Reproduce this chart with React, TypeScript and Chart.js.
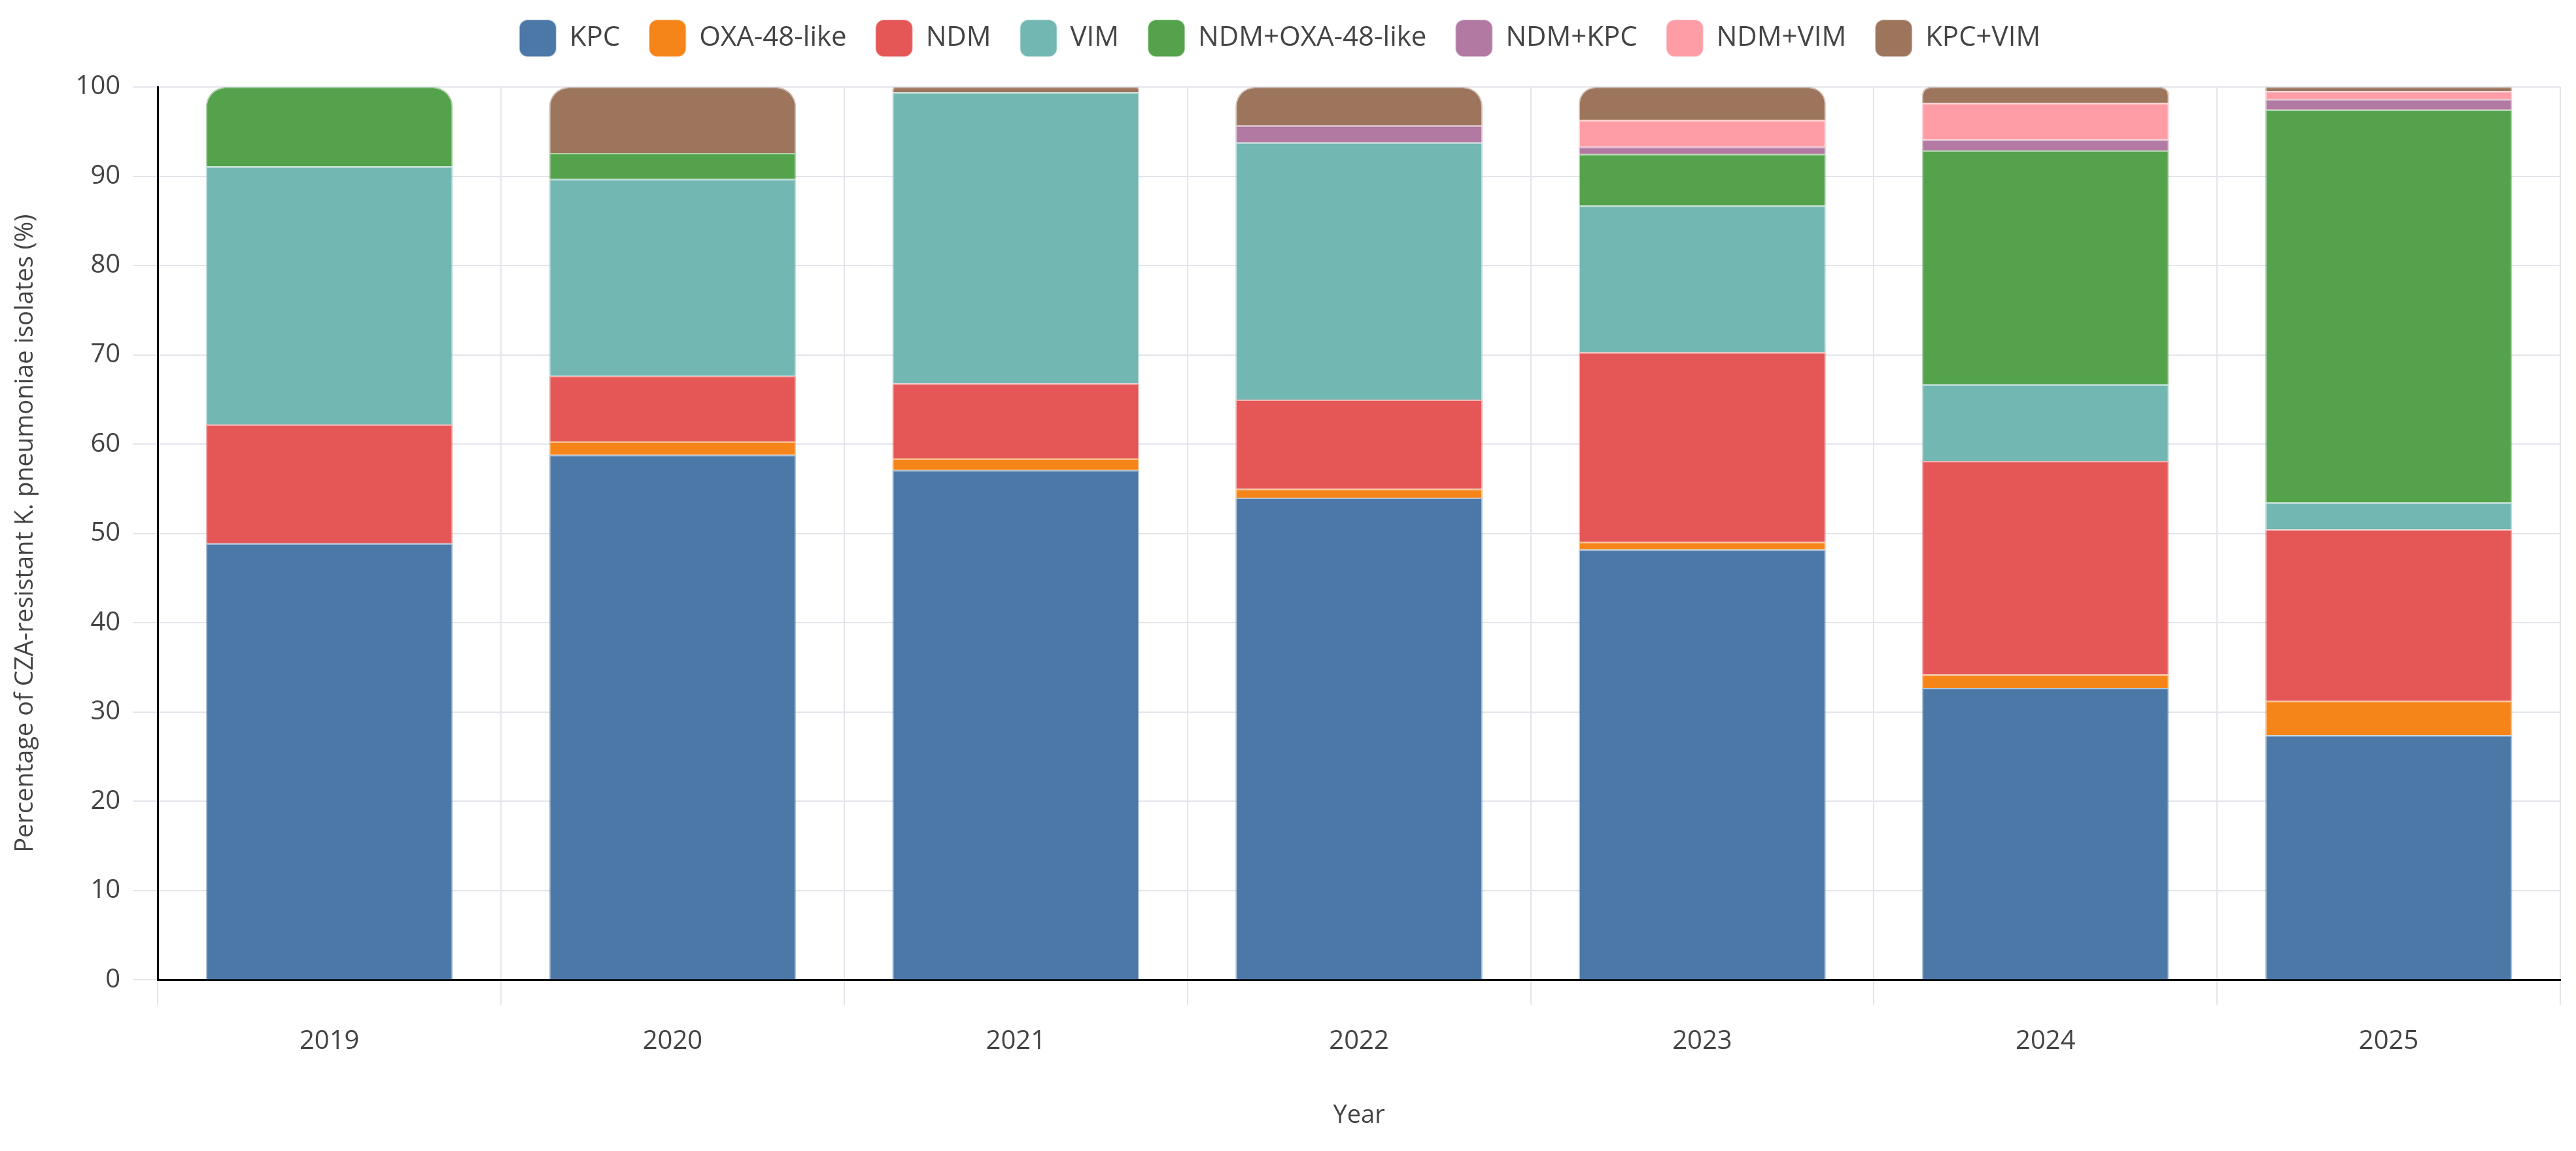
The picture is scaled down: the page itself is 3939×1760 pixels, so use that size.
import React, { useEffect, useRef } from "react";
import { Chart, registerables } from "chart.js";

Chart.register(...registerables);

const years = ["2019", "2020", "2021", "2022", "2023", "2024", "2025"];

const kpc = [48.9, 58.8, 57.1, 54.0, 48.2, 32.7, 27.4];
const oxa48 = [0, 1.5, 1.3, 1.0, 0.85, 1.5, 3.85];
const ndm = [13.3, 7.35, 8.4, 10.0, 21.25, 23.9, 19.2];
const vim = [28.9, 22.05, 32.6, 28.8, 16.4, 8.6, 3.0];
const ndmOxa = [8.9, 2.9, 0, 0, 5.8, 26.2, 44.0];
const ndmKpc = [0, 0, 0, 1.9, 0.8, 1.2, 1.2];
const ndmVim = [0, 0, 0, 0, 3.0, 4.1, 0.9];
const kpcVim = [0, 7.4, 0.6, 4.3, 3.7, 1.8, 0.45];

const seriesLabels = ["KPC", "OXA-48-like", "NDM", "VIM", "NDM+OXA-48-like", "NDM+KPC", "NDM+VIM", "KPC+VIM"];
const seriesValues = [kpc, oxa48, ndm, vim, ndmOxa, ndmKpc, ndmVim, kpcVim];
const seriesColors = ["#4c78a8", "#f58518", "#e45756", "#72b7b2", "#54a24b", "#b279a2", "#ff9da6", "#9d755d"];

const yTitle = "Percentage of CZA-resistant K. pneumoniae isolates (%)";
const xTitle = "Year";

const FONT = "'Open Sans', 'Noto Sans', sans-serif";
const LEGEND_EXTRA = 37;

const legendSpacer = {
  id: "legendSpacer",
  afterInit(chart: any) {
    const lg = chart.legend;
    if (!lg) return;
    const fit = lg.fit;
    lg.fit = function () {
      fit.call(this);
      this.height += LEGEND_EXTRA;
    };
  },
};

export default function App() {
  const ref = useRef<HTMLCanvasElement | null>(null);

  useEffect(() => {
    if (!ref.current) return;
    const chart = new Chart(ref.current, {
      type: "bar",
      data: {
        labels: years,
        datasets: seriesLabels.map((label, i) => ({
          label,
          data: seriesValues[i],
          backgroundColor: seriesColors[i],
          borderColor: seriesColors[i] + "70",
          borderWidth: 2,
          borderRadius: 30,
        })),
      },
      plugins: [legendSpacer],
      options: {
        animation: false,
        responsive: true,
        maintainAspectRatio: false,
        layout: { padding: { top: -14, left: 0, right: 24, bottom: 27 } },
        plugins: {
          legend: {
            position: "top",
            labels: {
              boxWidth: 55,
              boxHeight: 55,
              useBorderRadius: true,
              borderRadius: 12,
              padding: 45,
              color: "#444",
              font: { family: FONT, size: 42 },
            },
          },
          tooltip: { enabled: false },
        },
        scales: {
          x: {
            stacked: true,
            grid: { color: "#e4e4ec", lineWidth: 2, tickLength: 38, offset: true },
            border: { color: "#000", width: 3 },
            ticks: { color: "#444", font: { family: FONT, size: 40 }, padding: 32 },
            title: {
              display: true,
              text: xTitle,
              color: "#444",
              font: { family: FONT, size: 38 },
              padding: { top: 35, bottom: 4 },
            },
          },
          y: {
            stacked: true,
            min: 0,
            max: 100,
            grid: { color: "#e4e4ec", lineWidth: 2, tickLength: 38 },
            border: { color: "#000", width: 3 },
            ticks: { stepSize: 10, color: "#444", font: { family: FONT, size: 40 }, padding: 19 },
            title: {
              display: true,
              text: yTitle,
              color: "#444",
              font: { family: FONT, size: 38 },
              padding: { top: 16, bottom: 35 },
            },
          },
        },
      },
    });
    return () => chart.destroy();
  }, []);

  return (
    <div style={{ position: "absolute", left: 0, top: 0, width: 3939, height: 1760, background: "#fff" }}>
      <canvas ref={ref} />
    </div>
  );
}
